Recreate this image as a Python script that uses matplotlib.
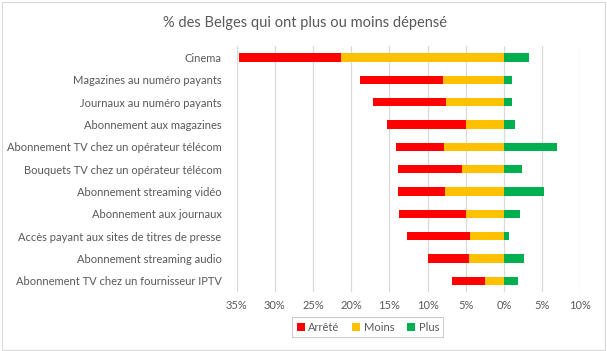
import matplotlib.pyplot as plt
from matplotlib.patches import Rectangle

plt.rcParams['font.family'] = ['Lato', 'DejaVu Sans']

categories = [
    "Cinema",
    "Magazines au numéro payants",
    "Journaux au numéro payants",
    "Abonnement aux magazines",
    "Abonnement TV chez un opérateur télécom",
    "Bouquets TV chez un opérateur télécom",
    "Abonnement streaming vidéo",
    "Abonnement aux journaux",
    "Accès payant aux sites de titres de presse",
    "Abonnement streaming audio",
    "Abonnement TV chez un fournisseur IPTV",
]
arrete = [13.3, 10.8, 9.5, 10.3, 6.3, 8.4, 6.2, 8.7, 8.2, 5.4, 4.3]
moins = [21.4, 8.0, 7.6, 5.0, 7.9, 5.5, 7.7, 5.0, 4.5, 4.6, 2.5]
plus = [3.3, 1.0, 1.1, 1.4, 7.0, 2.4, 5.3, 2.1, 0.7, 2.6, 1.8]

txt = "#595959"
fig = plt.figure(figsize=(6.07, 3.51), dpi=100)
ax = fig.add_axes([0.39, 0.168, 0.566, 0.70])

y = list(range(len(categories)))
h = 0.38
neg_moins = [-m for m in moins]
ax.barh(y, neg_moins, height=h, color="#FFC000", label="Moins", zorder=3)
ax.barh(y, [-a for a in arrete], left=neg_moins, height=h, color="#FF0000",
        label="Arrêté", zorder=3)
ax.barh(y, plus, height=h, color="#00B050", label="Plus", zorder=3)

ax.set_xlim(-35, 10)
ax.set_ylim(len(categories) - 0.5, -0.5)
ticks = list(range(-35, 11, 5))
ax.set_xticks(ticks)
ax.set_xticklabels([f"{abs(t)}%" for t in ticks])
ax.set_yticks(y)
ax.set_yticklabels(categories)
ax.tick_params(axis="both", length=0, labelsize=8, colors=txt)
ax.tick_params(axis="x", pad=6)
ax.tick_params(axis="y", pad=11)
ax.grid(axis="x", color="#D9D9D9", linewidth=0.9, zorder=0)
for s in ax.spines.values():
    s.set_visible(False)

fig.text(0.502, 0.935, "% des Belges qui ont plus ou moins dépensé",
         ha="center", va="center", fontsize=10.5, color=txt)

hd, lb = ax.get_legend_handles_labels()
order = [1, 0, 2]
leg = fig.legend([hd[i] for i in order], [lb[i] for i in order],
                 loc="center", bbox_to_anchor=(0.606, 0.068), ncol=3,
                 fontsize=8, frameon=True, fancybox=False,
                 handlelength=0.7, handleheight=0.7, handletextpad=0.3,
                 columnspacing=1.2, borderpad=0.4)
leg.get_frame().set_edgecolor("#BFBFBF")
leg.get_frame().set_linewidth(0.8)
for t in leg.get_texts():
    t.set_color(txt)

fig.patches.append(Rectangle((0.003, 0.004), 0.994, 0.99, transform=fig.transFigure,
                             fill=False, edgecolor="#D9D9D9", linewidth=0.8))

fig.savefig("out.png", dpi=100)
